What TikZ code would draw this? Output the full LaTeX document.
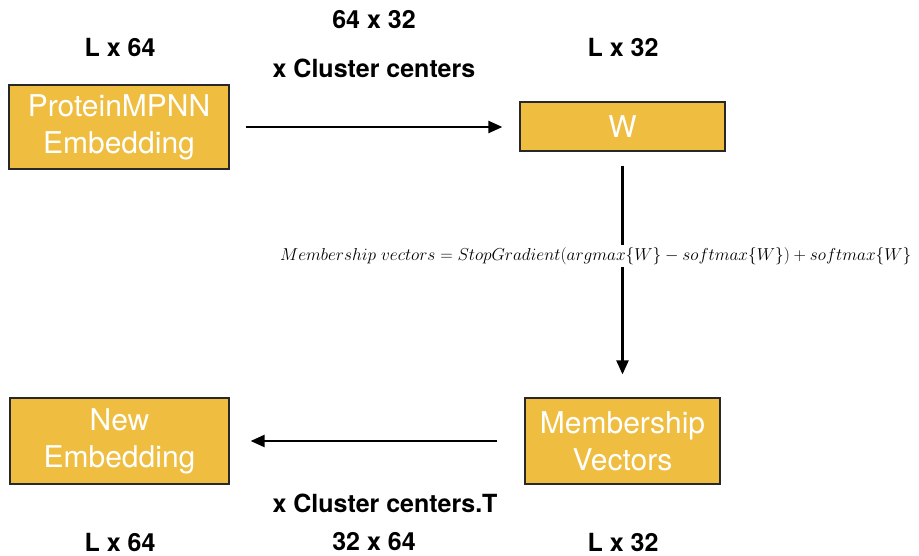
\documentclass[tikz,border=0pt]{standalone}
\usepackage[no-math]{fontspec}
\usepackage{tikz}
\usetikzlibrary{arrows.meta, positioning}
\newfontfamily\heros{TeX Gyre Heros}
\definecolor{boxgold}{RGB}{239, 189, 63}
\definecolor{boxedge}{RGB}{40, 40, 40}

\begin{document}
\begin{tikzpicture}[
        x=1pt, y=-1pt,
        box/.style={rectangle, draw=boxedge, fill=boxgold, line width=1.2pt, align=center, text=white, inner sep=0pt, font=\heros\fontsize{30}{37}\selectfont},
        dimlab/.style={inner sep=0pt, font=\heros\bfseries\fontsize{25}{29}\selectfont},
        eqlab/.style={fill=white, inner sep=2pt, font=\fontsize{17}{19}\selectfont},
        arrow/.style={-{Triangle[length=14pt, width=12pt]}, line width=2.3pt}
    ]
        \useasboundingbox (0,0) rectangle (919,556);

        \node[box, minimum width=220, minimum height=84] (embed) at (119,127) {ProteinMPNN\\Embedding};
        \node[box, minimum width=205, minimum height=49] (w) at (622.5,126.5) {W};
        \node[box, minimum width=195, minimum height=86] (member) at (622.5,441) {Membership\\Vectors};
        \node[box, minimum width=219, minimum height=86] (newemb) at (119.5,441) {New\\Embedding};

        \node[dimlab] (dimin) at (120,48) {L x 64};
        \node[dimlab] (dimc) at (374,20) {64 x 32};
        \node[dimlab] (mulc) at (374,68) {x Cluster centers};
        \node[dimlab] (dimw) at (623,48) {L x 32};
        \node[dimlab] (mulct) at (385,503) {x Cluster centers.T};
        \node[dimlab] (dimout) at (120,542) {L x 64};
        \node[dimlab] (dimct) at (374,542) {32 x 64};
        \node[dimlab] (dimm) at (623,542) {L x 32};

        \draw[arrow, shorten <=16pt, shorten >=17pt] (embed.east) -- (embed.east -| w.west);
        \draw[arrow, shorten <=14pt, shorten >=23pt] (w) -- (member);
        \draw[arrow, shorten <=27pt, shorten >=21pt] (member.west) -- (member.west -| newemb.east);

        \node[eqlab, anchor=west] (eq) at (278,256) {$Membership\ vectors = StopGradient(argmax\{W\} - softmax\{W\}) + softmax\{W\}$};
    \end{tikzpicture}
\end{document}
